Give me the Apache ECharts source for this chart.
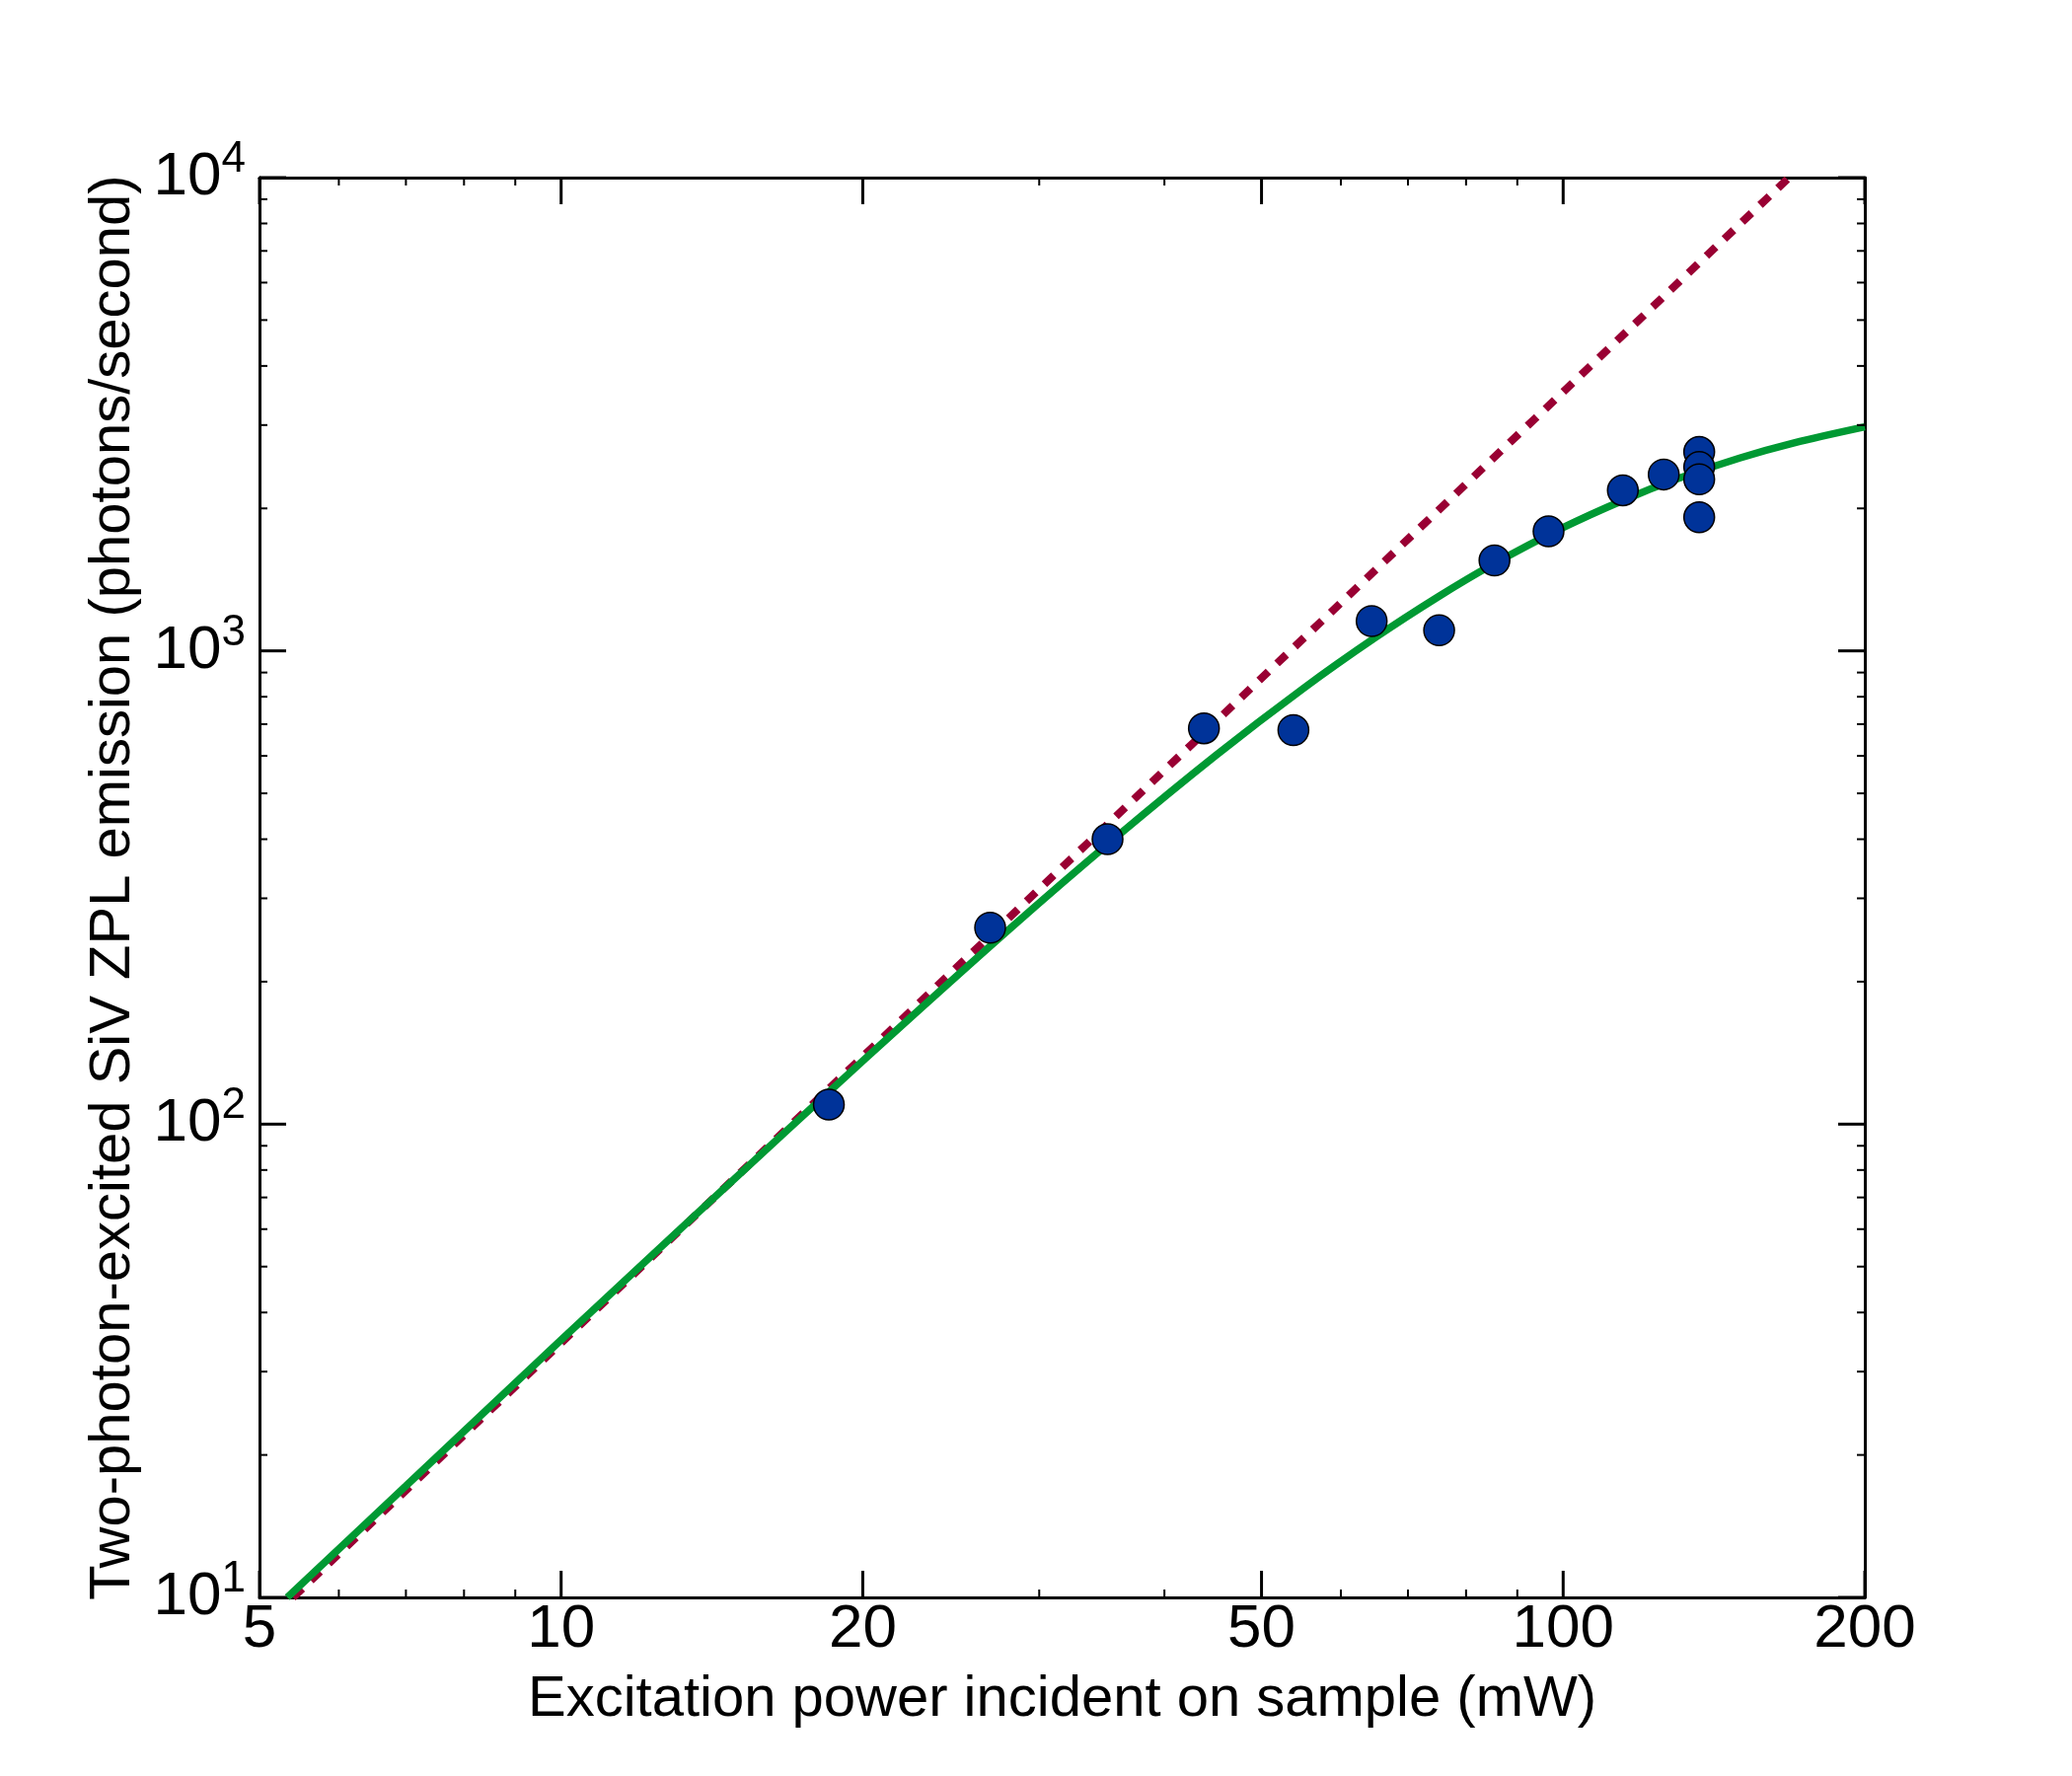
<!DOCTYPE html>
<html lang="en">
<head>
<meta charset="UTF-8">
<title>Two-photon-excited SiV ZPL emission vs excitation power</title>
<script src="https://cdn.jsdelivr.net/npm/echarts@6.0.0/dist/echarts.min.js"></script>
<style>
  html, body { margin: 0; padding: 0; background: #fff; }
  #chart { width: 2100px; height: 1800px; }
</style>
</head>
<body>
<div id="chart"></div>
<script>
// measured emission (mW, photons/second)
const power = [18.5, 26.8, 35.1, 43.8, 53.8, 64.4, 75.2, 85.4, 96.7, 114.7, 126, 136.7, 136.7, 136.7, 136.7];
const emission = [110, 260, 400, 686, 680, 1156, 1105, 1553, 1789, 2184, 2359, 2632, 2446, 2305, 1915];

// saturation fit (green)
const fitPower = [5.33, 7, 10, 14, 20, 28, 36, 45, 55, 65, 75, 85, 100, 115, 130, 150, 170, 200];
const fitEmission = [10, 17.2, 35, 67.9, 136, 258, 408, 601, 832, 1068, 1300, 1521, 1822, 2084, 2309, 2555, 2751, 2973];

// pure quadratic guide (dotted) - straight on log-log
const quadPower = [5.4, 168];
const quadEmission = [10, 10000];

// axis ticks
const xMajorTicks = [5, 10, 20, 50, 100, 200];
const xMinorTicks = [6, 7, 8, 9, 30, 40, 60, 70, 80, 90];
const yMajorTicks = [10, 100, 1000, 10000];
const yMinorTicks = [20, 30, 40, 50, 60, 70, 80, 90,
                     200, 300, 400, 500, 600, 700, 800, 900,
                     2000, 3000, 4000, 5000, 6000, 7000, 8000, 9000];

const FONT = 'Liberation Sans, Arial, Helvetica, sans-serif';
const X_MIN = xMajorTicks[0], X_MAX = xMajorTicks[xMajorTicks.length - 1];
const Y_MIN = yMajorTicks[0], Y_MAX = yMajorTicks[yMajorTicks.length - 1];

const chart = echarts.init(document.getElementById('chart'));

// draws ticks on both opposite sides of the frame, pointing inward
function tickSeries(values, dim, len, width) {
    return {
        type: 'custom',
        silent: true,
        clip: false,
        z: 5,
        data: values.map(v => dim === 'x' ? [v, Y_MIN] : [X_MIN, v]),
        renderItem: (params, api) => {
            const cs = params.coordSys;
            const p = api.coord([api.value(0), api.value(1)]);
            const style = { stroke: '#000', lineWidth: width };
            if (dim === 'x') {
                const b = cs.y + cs.height;
                return { type: 'group', children: [
                    { type: 'line', shape: { x1: p[0], y1: b, x2: p[0], y2: b - len }, style: style },
                    { type: 'line', shape: { x1: p[0], y1: cs.y, x2: p[0], y2: cs.y + len }, style: style }
                ]};
            }
            const r = cs.x + cs.width;
            return { type: 'group', children: [
                { type: 'line', shape: { x1: cs.x, y1: p[1], x2: cs.x + len, y2: p[1] }, style: style },
                { type: 'line', shape: { x1: r, y1: p[1], x2: r - len, y2: p[1] }, style: style }
            ]};
        }
    };
}

const frameAxis = {
    type: 'log',
    logBase: 10,
    axisLine: { show: true, lineStyle: { color: '#000', width: 3 } },
    axisTick: { show: false },
    axisLabel: { show: false },
    splitLine: { show: false }
};

const option = {
    animation: false,
    backgroundColor: '#fff',
    grid: { left: 263, right: 210, top: 180, bottom: 181 },
    xAxis: [
        Object.assign({}, frameAxis, {
            min: X_MIN, max: X_MAX, position: 'bottom',
            name: 'Excitation power incident on sample (mW)',
            nameLocation: 'middle',
            nameGap: 75,
            nameTextStyle: { fontSize: 58, fontFamily: FONT, color: '#000' }
        }),
        Object.assign({}, frameAxis, { min: X_MIN, max: X_MAX, position: 'top' })
    ],
    yAxis: [
        Object.assign({}, frameAxis, {
            min: Y_MIN, max: Y_MAX, position: 'left',
            name: 'Two-photon-excited SiV ZPL emission (photons/second)',
            nameLocation: 'middle',
            nameGap: 119,
            nameTextStyle: { fontSize: 58, fontFamily: FONT, color: '#000' },
            axisLabel: {
                show: true,
                margin: 14,
                formatter: v => '{b|10}{s|' + Math.round(Math.log10(v)) + '}',
                rich: {
                    b: { fontSize: 62, fontFamily: FONT, color: '#000', lineHeight: 80 },
                    s: { fontSize: 44, fontFamily: FONT, color: '#000', verticalAlign: 'top' }
                }
            }
        }),
        Object.assign({}, frameAxis, { min: Y_MIN, max: Y_MAX, position: 'right' })
    ],
    series: [
        {
            name: 'quadratic',
            type: 'line',
            data: quadPower.map((x, i) => [x, quadEmission[i]]),
            showSymbol: false,
            silent: true,
            lineStyle: { color: '#990033', width: 8, type: [13, 12], cap: 'butt' },
            z: 2
        },
        {
            name: 'fit',
            type: 'line',
            data: fitPower.map((x, i) => [x, fitEmission[i]]),
            showSymbol: false,
            smooth: 0.3,
            silent: true,
            lineStyle: { color: '#009933', width: 7.5 },
            z: 3
        },
        {
            name: 'data',
            type: 'scatter',
            data: power.map((x, i) => [x, emission[i]]),
            symbolSize: 31,
            itemStyle: { color: '#003399', borderColor: '#000', borderWidth: 1.5, opacity: 1 },
            z: 4
        },
        tickSeries(xMajorTicks, 'x', 27, 3),
        tickSeries(xMinorTicks, 'x', 8, 2),
        tickSeries(yMajorTicks, 'y', 27, 3),
        tickSeries(yMinorTicks, 'y', 8, 2),
        {
            name: 'xlabels',
            type: 'custom',
            silent: true,
            clip: false,
            data: xMajorTicks.map(v => [v, Y_MIN]),
            renderItem: (params, api) => {
                const cs = params.coordSys;
                const p = api.coord([api.value(0), api.value(1)]);
                return {
                    type: 'text',
                    x: p[0],
                    y: cs.y + cs.height + 2,
                    style: {
                        text: String(api.value(0)),
                        fontSize: 62,
                        fontFamily: FONT,
                        fill: '#000',
                        align: 'center',
                        verticalAlign: 'top'
                    }
                };
            }
        }
    ]
};

chart.setOption(option);
window.addEventListener('resize', () => chart.resize());
</script>
</body>
</html>
